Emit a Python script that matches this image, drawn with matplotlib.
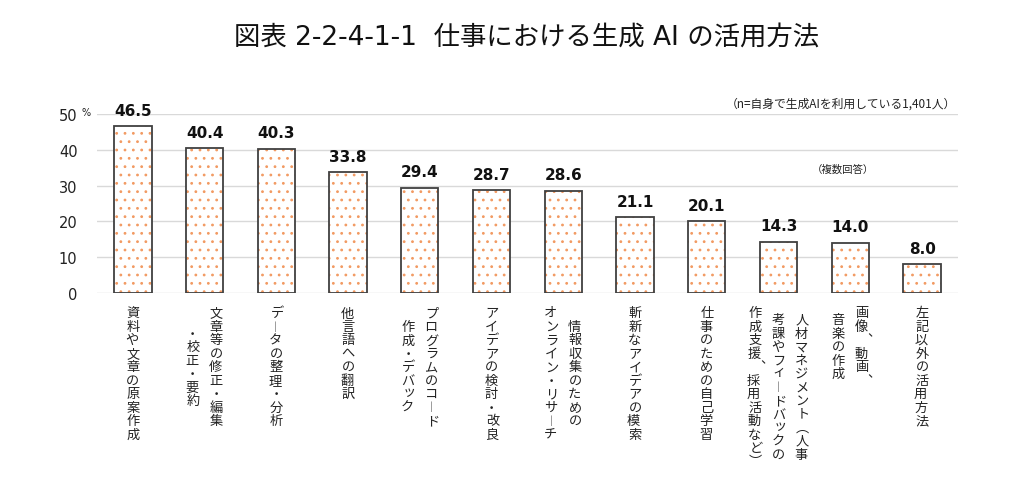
import matplotlib
matplotlib.use('Agg')
from matplotlib import pyplot as plt
from matplotlib import font_manager
from matplotlib.ft2font import FT2Font

plt.rcParams['font.family'] = ['DejaVu Sans', 'Noto Sans CJK JP']
plt.rcParams['hatch.linewidth'] = 0.8

TITLE = '図表 2-2-4-1-1  仕事における生成 AI の活用方法'
NOTE_N = '（n=自身で生成AIを利用している1,401人）'
NOTE_MULTI = '（複数回答）'

# each label is a list of vertical columns, first column drawn rightmost
LABELS = [
    ['資料や文章の原案作成'],
    ['文章等の修正・編集', '・校正・要約'],
    ['データの整理・分析'],
    ['他言語への翻訳'],
    ['プログラムのコード', '作成・デバック'],
    ['アイデアの検討・改良'],
    ['情報収集のための', 'オンライン・リサーチ'],
    ['斬新なアイデアの模索'],
    ['仕事のための自己学習'],
    ['人材マネジメント（人事', '考課やフィードバックの', '作成支援、採用活動など）'],
    ['画像、動画、', '音楽の作成'],
    ['左記以外の活用方法'],
]
VALUES = [46.5, 40.4, 40.3, 33.8, 29.4, 28.7, 28.6, 21.1, 20.1, 14.3, 14.0, 8.0]
YTICKS = [0, 10, 20, 30, 40, 50]

ORANGE = '#F29A62'
EDGE = '#404040'
GRID = '#D9D9D9'
TEXT = '#222222'

# vertical writing forms
VERT = {'ー': '｜', '（': '︵', '）': '︶', '、': '︑'}

try:
    CJK_FONT = FT2Font(font_manager.findfont('Noto Sans CJK JP'), hinting_factor=1)
except Exception:
    CJK_FONT = None


def ink_shift(ch, fs):
    # matplotlib centres the ink, move it so the advance cell is centred instead
    if CJK_FONT is None:
        return 0
    try:
        CJK_FONT.set_size(fs, 72)
        g = CJK_FONT.load_char(ord(ch))
        shift = (g.horiBearingX + g.width / 2 - g.horiAdvance / 2) / 64
    except Exception:
        return 0
    return shift if abs(shift) < 0.35 * fs else 0


def draw_vertical_label(ax, x, columns, size=9.5, step=9.7, col_gap=17.0, top=14.4):
    n_cols = len(columns)
    longest = max(len(c) for c in columns)
    for j, col in enumerate(columns):
        dx = ((n_cols - 1) / 2 - j) * col_gap
        start = (longest - len(col)) / 2 * step
        for k, ch in enumerate(col):
            fs = size * 0.8 if ch == 'ー' else size
            glyph = VERT.get(ch, ch)
            ox, oy = ink_shift(glyph, fs), 0
            if ch in 'ッィ':
                ox, oy = ox + 0.1 * size, 0.15 * size
            ax.annotate(glyph, xy=(x, 0), xycoords='data',
                        xytext=(dx + ox, -top - start - k * step + oy), textcoords='offset points',
                        ha='center', va='center', fontsize=fs, color=TEXT,
                        family=['Noto Sans CJK JP'], annotation_clip=False)


fig = plt.figure(figsize=(10.24, 4.81), dpi=100)
ax = fig.add_axes([0.0947, 0.389, 0.8408, 0.372])

x = list(range(len(VALUES)))
ax.bar(x, VALUES, width=0.52, color='white', edgecolor=ORANGE, hatch='..', linewidth=0, zorder=2)
ax.bar(x, VALUES, width=0.52, color='none', edgecolor=EDGE, linewidth=1.3, zorder=3)

for xi, v in zip(x, VALUES):
    ax.annotate(f'{v:.1f}', xy=(xi, v), xytext=(0, 6), textcoords='offset points',
                ha='center', va='bottom', fontsize=11, fontweight='bold', color='#111111')

ax.set_xlim(-0.5, len(VALUES) - 0.5)
ax.set_ylim(0, 50)
ax.set_yticks(YTICKS)
ax.set_yticklabels([str(t) for t in YTICKS], fontsize=10.5, color=TEXT)
ax.set_xticks([])
ax.tick_params(axis='y', length=0, pad=14)
ax.yaxis.grid(True, color=GRID, linewidth=1)
ax.set_axisbelow(True)
for s in ax.spines.values():
    s.set_visible(False)

ax.text(-0.018, 1.01, '%', transform=ax.transAxes, ha='left', va='center', fontsize=7, color=TEXT)

for xi, cols in zip(x, LABELS):
    draw_vertical_label(ax, xi, cols)

ax.text(0.998, 1.062, NOTE_N, transform=ax.transAxes, ha='right', va='center',
        fontsize=8.5, color=TEXT, family=['Noto Sans CJK JP'])
ax.text(0.866, 0.693, NOTE_MULTI, transform=ax.transAxes, ha='center', va='center',
        fontsize=7.5, color=TEXT, family=['Noto Sans CJK JP'])

fig.text(0.5146, 1 - 38 / 481, TITLE, ha='center', va='center', fontsize=19, color='#111111')

fig.savefig('out.png', dpi=100)
